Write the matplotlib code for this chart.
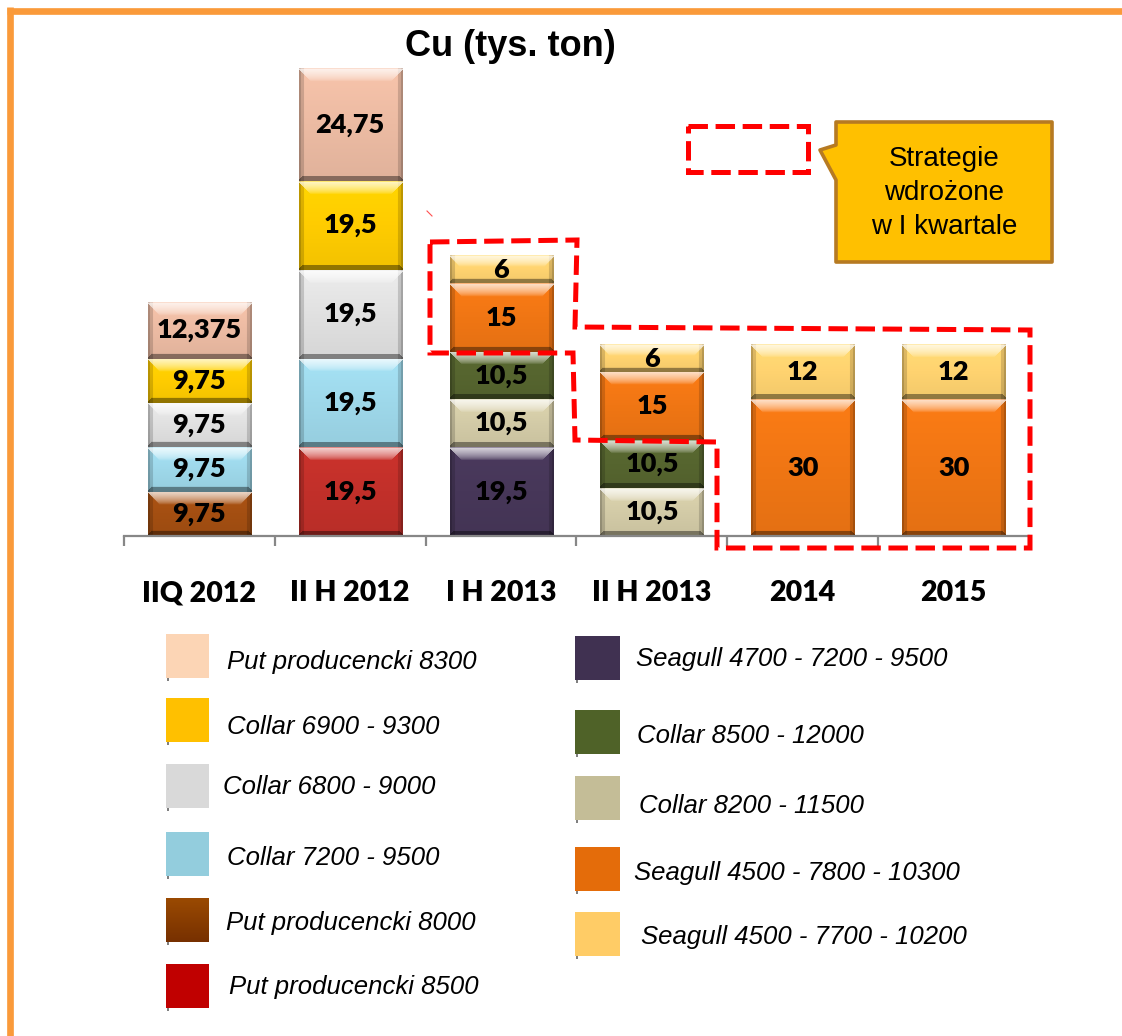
import numpy as np
import matplotlib
matplotlib.use("Agg")
import matplotlib.pyplot as plt
import matplotlib.colors as mcolors
from matplotlib.patches import Polygon, Rectangle
from matplotlib.lines import Line2D

plt.rcParams["lines.scale_dashes"] = False

# ---- data (thousand tonnes of Cu hedged per period) ----
categories = ["IIQ 2012", "II H 2012", "I H 2013", "II H 2013", "2014", "2015"]

put_8000 = [9.75, 0, 0, 0, 0, 0]
put_8500 = [0, 19.5, 0, 0, 0, 0]
seagull_4700_7200_9500 = [0, 0, 19.5, 0, 0, 0]
collar_7200_9500 = [9.75, 19.5, 0, 0, 0, 0]
collar_8200_11500 = [0, 0, 10.5, 10.5, 0, 0]
collar_6800_9000 = [9.75, 19.5, 0, 0, 0, 0]
collar_8500_12000 = [0, 0, 10.5, 10.5, 0, 0]
collar_6900_9300 = [9.75, 19.5, 0, 0, 0, 0]
seagull_4500_7800_10300 = [0, 0, 15, 15, 30, 30]
put_8300 = [12.375, 24.75, 0, 0, 0, 0]
seagull_4500_7700_10200 = [0, 0, 6, 6, 12, 12]

# series in stacking order (bottom to top): label, values, legend colour, bar body colour
series = [
    ("Put producencki 8000", put_8000, "#8a3d03", "#a44f12"),
    ("Put producencki 8500", put_8500, "#c00000", "#c2302a"),
    ("Seagull 4700 - 7200 - 9500", seagull_4700_7200_9500, "#403151", "#473759"),
    ("Collar 7200 - 9500", collar_7200_9500, "#93cddd", "#9ed8ea"),
    ("Collar 8200 - 11500", collar_8200_11500, "#c4bd97", "#d3cba7"),
    ("Collar 6800 - 9000", collar_6800_9000, "#d9d9d9", "#e1e1e1"),
    ("Collar 8500 - 12000", collar_8500_12000, "#4f6228", "#56652f"),
    ("Collar 6900 - 9300", collar_6900_9300, "#ffc000", "#ffcc00"),
    ("Seagull 4500 - 7800 - 10300", seagull_4500_7800_10300, "#e46c0a", "#f07614"),
    ("Put producencki 8300", put_8300, "#fcd5b5", "#ecbba3"),
    ("Seagull 4500 - 7700 - 10200", seagull_4500_7700_10200, "#ffcc66", "#ffd370"),
]

legend_left = ["Put producencki 8300", "Collar 6900 - 9300", "Collar 6800 - 9000",
               "Collar 7200 - 9500", "Put producencki 8000", "Put producencki 8500"]
legend_right = ["Seagull 4700 - 7200 - 9500", "Collar 8500 - 12000", "Collar 8200 - 11500",
                "Seagull 4500 - 7800 - 10300", "Seagull 4500 - 7700 - 10200"]

W, H = 1122, 1036
fig = plt.figure(figsize=(W / 100, H / 100), dpi=100)
fig.patch.set_facecolor("white")

ax = fig.add_axes([124 / W, 500 / H, 905 / W, 500.5 / H])
XLIM = (-0.5, len(categories) - 0.5)
YLIM = (0, 110)
ax.set_xlim(*XLIM)
ax.set_ylim(*YLIM)
ax.set_facecolor("none")


def bevel(rgb, wpx, hpx):
    """Shaded 'soft bevel' fill for a bar segment, sized in pixels."""
    w = max(int(round(wpx)), 2)
    h = max(int(round(hpx)), 2)
    yy, xx = np.mgrid[0:h, 0:w].astype(float) + 0.5
    dt, db, dl, dr = yy, h - yy, xx, w - xx
    c = np.array(mcolors.to_rgb(rgb))
    img = np.empty((h, w, 3))
    img[:] = c
    img *= (1.05 - 0.10 * (yy / h))[..., None]
    side = np.minimum(dl, dr)
    img[side < 5] *= 0.84
    img[side < 2] *= 0.85
    bt = min(13.0, h * 0.4)
    topmask = (dt < bt) & (dt <= dl + 1) & (dt <= dr + 1)
    amt = np.clip(1 - dt / bt, 0, 1) ** 0.6 * 0.8
    amt[dt < 1.5] *= 0.55
    img = np.where(topmask[..., None], img + (1 - img) * amt[..., None], img)
    bb = min(5.0, h * 0.15)
    botmask = (db < bb) & (db <= dl + 1) & (db <= dr + 1)
    img[botmask] *= 0.6
    return np.clip(img, 0, 1)


def fmt(v):
    return ("%g" % v).replace(".", ",")


x = np.arange(len(categories))
bar_w = 0.683
bottoms = np.zeros(len(categories))
for label, vals, leg_col, bar_col in series:
    vals = np.asarray(vals, dtype=float)
    bars = ax.bar(x, vals, bar_w, bottom=bottoms, color=bar_col, linewidth=0, zorder=2)
    for rect, v in zip(bars, vals):
        if v <= 0:
            continue
        x0, y0 = rect.get_x(), rect.get_y()
        w, h = rect.get_width(), rect.get_height()
        p0 = ax.transData.transform((x0, y0))
        p1 = ax.transData.transform((x0 + w, y0 + h))
        img = bevel(bar_col, p1[0] - p0[0], p1[1] - p0[1])
        ax.imshow(img, extent=(x0, x0 + w, y0, y0 + h), aspect="auto",
                  interpolation="bilinear", zorder=2.5)
        ax.text(x0 + w / 2, y0 + h / 2, fmt(v), ha="center", va="center",
                fontsize=19.5, fontweight="heavy", family="Lato", color="black", zorder=4)
    bottoms += vals

ax.set_xlim(*XLIM)
ax.set_ylim(*YLIM)
for s in ("left", "right", "top"):
    ax.spines[s].set_visible(False)
ax.spines["bottom"].set_color("#878787")
ax.spines["bottom"].set_linewidth(1.6)
ax.spines["bottom"].set_zorder(5)
ax.set_yticks([])
ax.set_xticks(x, categories)
ax.tick_params(axis="x", which="major", length=0, pad=32)
for t in ax.get_xticklabels():
    t.set_fontfamily("Lato")
    t.set_fontweight("heavy")
    t.set_fontsize(20.5)
ax.set_xticks(np.arange(len(categories) + 1) - 0.5, minor=True)
ax.tick_params(axis="x", which="minor", length=7.5, width=1.6, color="#878787", direction="out")

# ---- overlay in pixel coordinates for frame, title, notes and legend ----
ov = fig.add_axes([0, 0, 1, 1], zorder=10)
ov.set_xlim(0, W)
ov.set_ylim(H, 0)
ov.axis("off")
ov.patch.set_alpha(0)

frame_col = "#fa9a3a"
ov.add_line(Line2D([7, W], [10.5, 10.5], color=frame_col, lw=4.8, solid_capstyle="butt"))
ov.add_line(Line2D([10.5, 10.5], [7, H], color=frame_col, lw=4.8, solid_capstyle="butt"))

ov.text(510, 47, "Cu (tys. ton)", ha="center", va="center", fontsize=26,
        fontweight="bold", family="Liberation Sans")

# dashed red outlines
dash = dict(color="#ff0000", lw=3.6, linestyle=(0, (14, 5.5)), fill=False, joinstyle="miter")
ov.add_patch(Polygon([(430, 242), (577, 240), (575, 327), (1030, 330), (1030, 548),
                      (717, 548), (717, 442), (575, 440), (573, 353), (430, 353)],
                     closed=True, **dash))
ov.add_patch(Polygon([(688, 126), (808, 126), (808, 172), (688, 172)], closed=True, **dash))
ov.add_line(Line2D([427, 432], [211, 216], color="#ff5050", lw=0.8))

# callout
ov.add_patch(Polygon([(836, 122), (1052, 122), (1052, 262), (836, 262), (836, 180),
                      (820, 150), (836, 145)], closed=True, facecolor="#ffc000",
                     edgecolor="#b67a22", lw=2.6, joinstyle="round"))
ov.text(944, 193, "Strategie\nwdrożone\nw I kwartale", ha="center", va="center",
        fontsize=20, family="Liberation Sans", linespacing=1.38)

# legend
colors = {lab: col for lab, _, col, _ in series}
left_rows = [(634, 662), (698, 727), (764, 787), (832, 858), (898, 923), (964, 987)]
right_rows = [(636, 659), (710, 736), (776, 806), (847, 873), (912, 937)]
left_tx = [227, 227, 223, 227, 226, 229]
right_tx = [636, 637, 639, 634, 641]


def legend_entry(label, sx, sw, top, tx, ty):
    if label == "Put producencki 8000":
        grad = np.linspace(0, 1, 44)[:, None, None]
        top_c = np.array(mcolors.to_rgb("#9a4a02"))
        bot_c = np.array(mcolors.to_rgb("#773000"))
        img = top_c * (1 - grad) + bot_c * grad
        img = np.repeat(img, 4, axis=1)
        ov.imshow(img, extent=(sx, sx + sw, top + 44, top), aspect="auto",
                  interpolation="bilinear", zorder=3)
    else:
        ov.add_patch(Rectangle((sx, top), sw, 44, facecolor=colors[label], lw=0, zorder=3))
    ov.add_patch(Rectangle((sx + 1, top + 44), 2, 2.5, facecolor="#808080", lw=0, zorder=3))
    ov.text(tx, ty, label, ha="left", va="center", fontsize=18.5, style="italic",
            family="Liberation Sans", zorder=4)


for lab, (top, ty), tx in zip(legend_left, left_rows, left_tx):
    legend_entry(lab, 166, 43, top, tx, ty)
for lab, (top, ty), tx in zip(legend_right, right_rows, right_tx):
    legend_entry(lab, 575, 45, top, tx, ty)

ov.set_xlim(0, W)
ov.set_ylim(H, 0)

fig.savefig("out.png", dpi=100)
